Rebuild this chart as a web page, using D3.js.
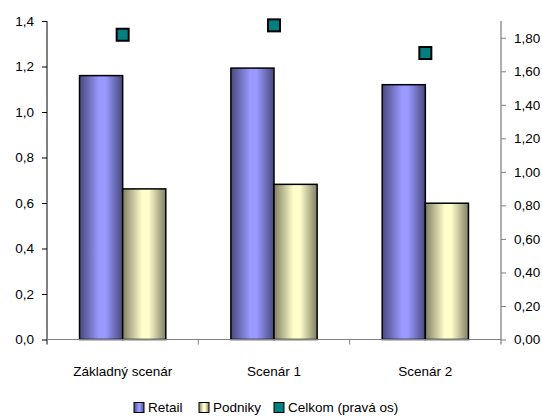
<!DOCTYPE html>
<html><head><meta charset="utf-8">
<script src="https://cdn.jsdelivr.net/npm/d3@7"></script>
<style>
html,body{margin:0;padding:0;background:#fff;}
svg{display:block;font-family:"Liberation Sans",Arial,sans-serif;}
</style></head>
<body>
<svg id="c" width="542" height="418"></svg>
<script>
const categories = ["Základný scenár", "Scenár 1", "Scenár 2"];
const retail = [1.16, 1.193, 1.12];
const podniky = [0.662, 0.682, 0.599];
const celkom = [1.818, 1.874, 1.709];
const leftTicks = [0, 0.2, 0.4, 0.6, 0.8, 1.0, 1.2, 1.4];
const rightTicks = [0, 0.2, 0.4, 0.6, 0.8, 1.0, 1.2, 1.4, 1.6, 1.8];
const seriesNames = ["Retail", "Podniky", "Celkom (pravá os)"];

const svg = d3.select("#c");
const L = 47, R = 501, T = 21, B = 339.5;
const FS = 13.5;

const x = d3.scaleBand().domain(categories).range([L, R]);
const yL = d3.scaleLinear().domain([0, 1.4]).range([B, T]);
const yR = d3.scaleLinear().domain([0, 1.9]).range([B, T]);
const fmt1 = d => d3.format(".1f")(d).replace(".", ",");
const fmt2 = d => d3.format(".2f")(d).replace(".", ",");

const defs = svg.append("defs");
function grad(id, dark, light) {
  const g = defs.append("linearGradient").attr("id", id).attr("x1", "0").attr("x2", "1").attr("y1", "0").attr("y2", "0");
  [[0, dark], [0.45, light], [0.6, light], [1, dark]].forEach(([o, c]) =>
    g.append("stop").attr("offset", o).attr("stop-color", c));
}
grad("gRetail", "#48487e", "#9999ff");
grad("gPod", "#808064", "#ffffcc");

const groupW = x.bandwidth() * 0.57;
const sub = d3.scaleBand().domain([0, 1]).range([0, groupW]);

// bars
const fills = ["url(#gRetail)", "url(#gPod)"];
[retail, podniky].forEach((vals, si) => {
  svg.append("g").selectAll("rect").data(vals).join("rect")
    .attr("x", (d, i) => x(categories[i]) + (x.bandwidth() - groupW) / 2 + sub(si))
    .attr("y", d => yL(d))
    .attr("width", sub.bandwidth())
    .attr("height", d => B - yL(d))
    .attr("fill", fills[si])
    .attr("stroke", "#000").attr("stroke-width", 1.5);
});

// axes
const axL = d3.axisLeft(yL).tickValues(leftTicks).tickFormat(fmt1).tickSize(5).tickPadding(8);
const gL = svg.append("g").attr("transform", `translate(${L},0)`).call(axL);
const axR = d3.axisRight(yR).tickValues(rightTicks).tickFormat(fmt2).tickSize(5).tickPadding(8);
const gR = svg.append("g").attr("transform", `translate(${R},0)`).call(axR);
const axX = d3.axisBottom(x).tickSize(0).tickPadding(27);
const gX = svg.append("g").attr("transform", `translate(0,${B})`).call(axX);
[gL, gR, gX].forEach(g => {
  g.attr("font-family", null).attr("font-size", FS);
  g.selectAll("text").attr("fill", "#000");
  g.select(".domain").attr("stroke", "#808080");
  g.selectAll(".tick line").attr("stroke", "#808080");
});
gL.select(".domain").attr("d", `M0,${T}V${B + 5}`).attr("stroke", "#000");
gL.selectAll(".tick line").attr("stroke", "#000");
gR.select(".domain").attr("d", `M0,${T}V${B + 5}`).attr("stroke", "#606060");
gX.select(".domain").attr("d", `M${L},0H${R}`);
// category boundary ticks
const bounds = categories.slice(1).map(c => x(c));
gX.selectAll("line.b").data(bounds).join("line").attr("class", "b")
  .attr("x1", d => d).attr("x2", d => d).attr("y1", 0).attr("y2", 5).attr("stroke", "#808080");

// markers
const ms = 12;
svg.append("g").selectAll("rect").data(celkom).join("rect")
  .attr("x", (d, i) => x(categories[i]) + x.bandwidth() / 2 - ms / 2)
  .attr("y", d => yR(d) - ms / 2)
  .attr("width", ms).attr("height", ms)
  .attr("fill", "#008080").attr("stroke", "#000").attr("stroke-width", 2);

// legend
const legX = [134, 199, 274];
const lg = svg.append("g").attr("font-size", FS);
const legFills = ["url(#gRetail)", "url(#gPod)", "#008080"];
seriesNames.forEach((n, i) => {
  lg.append("rect").attr("x", legX[i]).attr("y", 402.5).attr("width", 10).attr("height", 10)
    .attr("fill", legFills[i]).attr("stroke", "#000").attr("stroke-width", 1);
  lg.append("text").attr("x", legX[i] + 14).attr("y", 412).text(n).attr("fill", "#000");
});
</script>
</body></html>
